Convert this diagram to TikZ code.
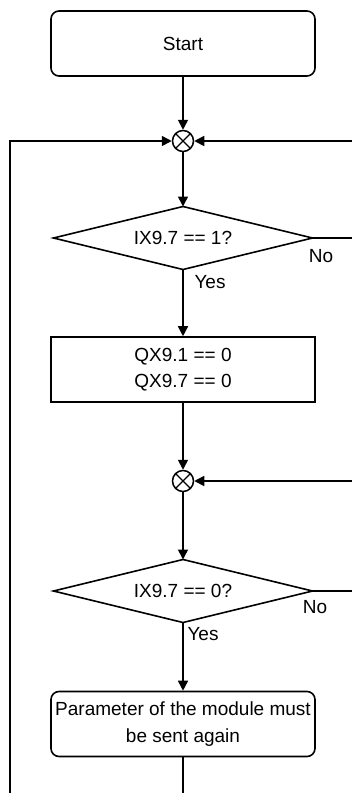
\documentclass[tikz,border=0pt]{standalone}
\usepackage{fontspec}
\setmainfont{Liberation Sans}
\usetikzlibrary{arrows.meta}

\tikzset{
  flow/.style={line width=1.6pt, draw=black},
  arr/.style={flow, -{Triangle[length=10pt,width=10pt]}},
  termbox/.style={draw, line width=1.6pt, rounded corners=8pt, minimum width=264pt,
                  minimum height=65pt, inner sep=0pt, align=center},
  procbox/.style={draw, line width=1.6pt, minimum width=264pt, minimum height=65pt,
                  inner sep=0pt, align=center},
  % the decision node is a bare frame; its rhombus is drawn through its anchors
  decision/.style={rectangle, minimum width=259pt, minimum height=63pt, inner sep=0pt, outer sep=0pt},
  rhombus/.style={flow, line join=miter},
  junction/.style={draw, line width=1.5pt, circle, minimum size=21pt, inner sep=0pt,
    path picture={
      \draw[line width=1.3pt] (path picture bounding box.north west) -- (path picture bounding box.south east);
      \draw[line width=1.3pt] (path picture bounding box.south west) -- (path picture bounding box.north east);
    }},
  lbl/.style={inner sep=0pt}
}

\begin{document}
\begin{tikzpicture}[x=1pt, y=-1pt, font=\fontsize{19}{26.5}\selectfont]
  \useasboundingbox (0,0) rectangle (352,793);

  % main column
  \node[termbox] (start) at (183,43.5) {Start};
  \node[junction] (j1) at (183,141) {};
  \node[decision] (d1) at (183,238) {IX9.7 == 1?};
  \draw[rhombus] (d1.north) -- (d1.east) -- (d1.south) -- (d1.west) -- cycle;
  \node[procbox] (set) at (183,369.5) {QX9.1 == 0\\QX9.7 == 0};
  \node[junction] (j2) at (183,481) {};
  \node[decision] (d2) at (183,591) {IX9.7 == 0?};
  \draw[rhombus] (d2.north) -- (d2.east) -- (d2.south) -- (d2.west) -- cycle;
  \node[termbox] (param) at (183,724) {Parameter of the module must\\be sent again};

  % branch labels
  \node[lbl] at (321,256) {No};
  \node[lbl] at (210,282) {Yes};
  \node[lbl] at (315,607) {No};
  \node[lbl] at (203,634) {Yes};

  % loose ends at the picture border
  \coordinate (lb) at (10,793);
  \coordinate (cb) at (183,793);
  \coordinate (r1) at (352,141);
  \coordinate (r1b) at (352,238);
  \coordinate (r2) at (352,481);
  \coordinate (r2b) at (352,591);

  % connectors
  \draw[arr] (start) -- (j1);
  \draw[arr] (j1) -- (d1.north);
  \draw[arr] (d1.south) -- (set);
  \draw[arr] (set) -- (j2);
  \draw[arr] (j2) -- (d2.north);
  \draw[arr] (d2.south) -- (param);
  \draw[flow] (param) -- (cb);

  \draw[arr] (lb) |- (j1.west);
  \draw[arr] (r1) -- (j1.east);
  \draw[flow] (d1.east) -- (r1b);
  \draw[arr] (r2) -- (j2.east);
  \draw[flow] (d2.east) -- (r2b);
\end{tikzpicture}
\end{document}
